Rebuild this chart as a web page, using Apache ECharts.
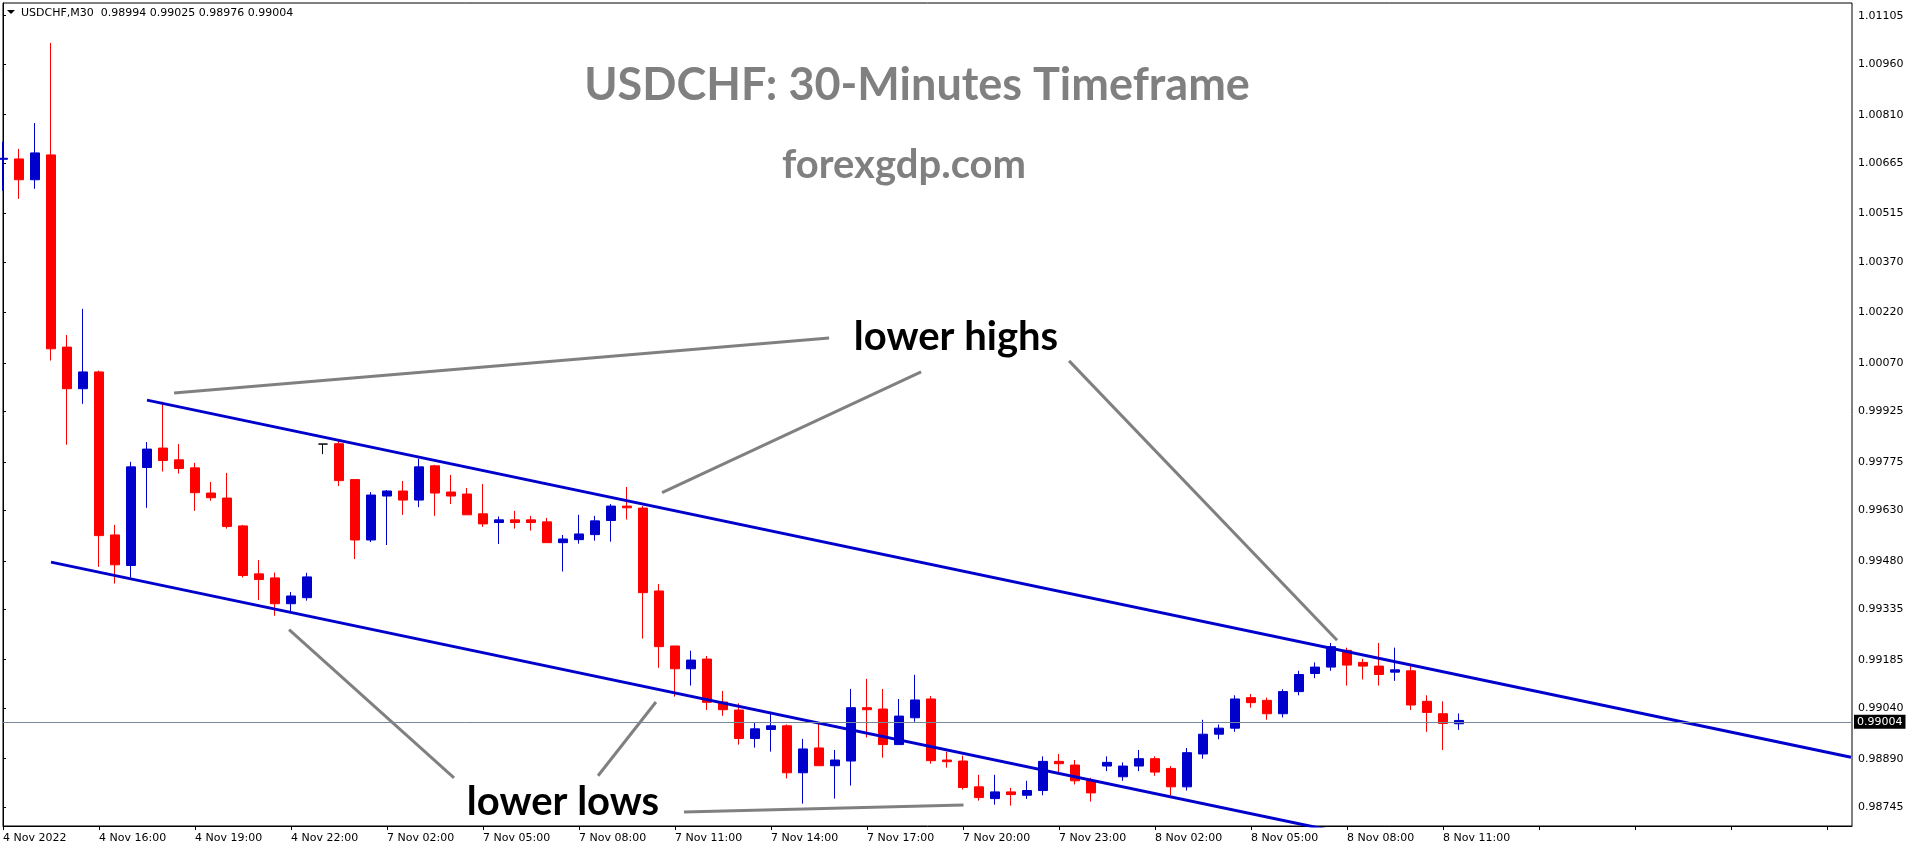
<!DOCTYPE html>
<html><head><meta charset="utf-8">
<script src="https://cdn.jsdelivr.net/npm/echarts@6/dist/echarts.min.js"></script>
<style>html,body{margin:0;padding:0;background:#fff}#c{width:1916px;height:850px}</style>
</head><body><div id="c"></div>
<script>
// ---- data (30-minute bars, index 0 = 4 Nov 2022 13:00) ----
const tickLabels = ['4 Nov 2022','4 Nov 16:00','4 Nov 19:00','4 Nov 22:00','7 Nov 02:00','7 Nov 05:00','7 Nov 08:00','7 Nov 11:00','7 Nov 14:00','7 Nov 17:00','7 Nov 20:00','7 Nov 23:00','8 Nov 02:00','8 Nov 05:00','8 Nov 08:00','8 Nov 11:00'];
const opens = [1.00677,1.00678,1.00616,1.00690,1.00117,0.99993,1.00043,0.99557,0.99466,0.99758,
0.99816,0.99781,0.99757,0.99682,0.99667,0.99584,0.99441,0.99429,0.99352,0.99370,
0.99828,0.99829,0.99722,0.99542,0.99673,0.99688,0.99661,0.99763,0.99685,0.99679,
0.99620,0.99594,0.99602,0.99602,0.99596,0.99534,0.99543,0.99558,0.99600,0.99643,
0.99637,0.99390,0.99226,0.99158,0.99187,0.99059,0.99035,0.98950,0.98977,0.98988,
0.98848,0.98922,0.98869,0.98883,0.99042,0.99038,0.98932,0.99012,0.99068,0.98886,
0.98883,0.98806,0.98771,0.98791,0.98781,0.98795,0.98882,0.98871,0.98824,0.98868,
0.98836,0.98868,0.98890,0.98861,0.98806,0.98904,0.98963,0.98981,0.99072,0.99064,
0.99024,0.99090,0.99144,0.99163,0.99213,0.99177,0.99166,0.99148,0.99152,0.99061,
0.99024,0.98994];
const highs = [1.00729,1.00708,1.00785,1.01024,1.00153,1.00231,1.00047,0.99587,0.99775,0.99834,
0.99954,0.99828,0.99772,0.99715,0.99742,0.99587,0.99482,0.99445,0.99387,0.99444,
0.99828,0.99837,0.99722,0.99685,0.99691,0.99718,0.99784,0.99766,0.99736,0.99697,
0.99709,0.99612,0.99629,0.99614,0.99608,0.99557,0.99617,0.99614,0.99649,0.99700,
0.99643,0.99411,0.99226,0.99212,0.99196,0.99092,0.99055,0.98997,0.99030,0.98992,
0.98949,0.98994,0.98916,0.99098,0.99128,0.99098,0.99068,0.99140,0.99077,0.98911,
0.98899,0.98842,0.98842,0.98803,0.98824,0.98897,0.98904,0.98886,0.98833,0.98897,
0.98879,0.98916,0.98897,0.98868,0.98922,0.99006,0.98992,0.99079,0.99083,0.99072,
0.99097,0.99152,0.99177,0.99235,0.99221,0.99188,0.99235,0.99221,0.99166,0.99079,
0.99061,0.99025];
const lows = [1.00583,1.00559,1.00589,1.00077,0.99826,0.99948,0.99462,0.99412,0.99430,0.99638,
0.99746,0.99740,0.99629,0.99659,0.99576,0.99430,0.99363,0.99316,0.99327,0.99361,
0.99798,0.99703,0.99485,0.99536,0.99527,0.99617,0.99640,0.99614,0.99649,0.99617,
0.99581,0.99530,0.99576,0.99570,0.99534,0.99448,0.99531,0.99540,0.99537,0.99603,
0.99248,0.99161,0.99075,0.99108,0.99035,0.99018,0.98932,0.98923,0.98911,0.98831,
0.98756,0.98869,0.98771,0.98810,0.98953,0.98893,0.98932,0.99000,0.98875,0.98863,
0.98798,0.98765,0.98753,0.98750,0.98770,0.98781,0.98846,0.98813,0.98762,0.98853,
0.98824,0.98853,0.98839,0.98781,0.98795,0.98890,0.98948,0.98970,0.99042,0.99006,
0.99013,0.99079,0.99130,0.99152,0.99108,0.99126,0.99108,0.99122,0.99035,0.98970,
0.98916,0.98976];
const closes = [1.00680,1.00616,1.00696,1.00112,0.99993,1.00043,0.99555,0.99468,0.99760,0.99813,
0.99779,0.99755,0.99683,0.99668,0.99582,0.99436,0.99424,0.99352,0.99375,0.99432,
0.99828,0.99719,0.99542,0.99676,0.99688,0.99661,0.99760,0.99682,0.99673,0.99617,
0.99590,0.99602,0.99594,0.99594,0.99534,0.99545,0.99560,0.99599,0.99643,0.99638,
0.99385,0.99224,0.99158,0.99184,0.99058,0.99036,0.98950,0.98979,0.98988,0.98848,
0.98919,0.98869,0.98886,0.99042,0.99036,0.98932,0.99017,0.99065,0.98884,0.98881,
0.98804,0.98774,0.98791,0.98783,0.98795,0.98882,0.98875,0.98824,0.98788,0.98879,
0.98868,0.98890,0.98850,0.98806,0.98908,0.98963,0.98981,0.99068,0.99057,0.99024,
0.99090,0.99141,0.99163,0.99224,0.99169,0.99166,0.99141,0.99155,0.99050,0.99028,
0.98995,0.99004];
const priceTicks = [1.01105,1.00960,1.00810,1.00665,1.00515,1.00370,1.00220,1.00070,0.99925,0.99775,0.99630,0.99480,0.99335,0.99185,0.99040,0.98890,0.98745];
const lastPrice = 0.99004;
const headerText = 'USDCHF,M30  0.98994 0.99025 0.98976 0.99004';
// trend channel (bar index, price)
const upperChannel = [[9, 0.99959], [115.5, 0.98894]];
const lowerChannel = [[3, 0.99476], [115.5, 0.98351]];
// grey pointer lines (bar index, price)
const pointerLines = [
  [[10.69, 0.99980], [51.63, 1.00144]],
  [[41.19, 0.99683], [57.38, 1.00043]],
  [[66.63, 1.00076], [83.38, 0.99243]],
  [[17.88, 0.99275], [28.19, 0.98833]],
  [[37.19, 0.98839], [40.81, 0.99059]],
  [[42.56, 0.98731], [60.03, 0.98752]]
];

const yMin = 0.986893, yMax = 1.011429;
const BLUE = '#0000CD', RED = '#FF0000';

const candleData = opens.map((o, i) => [i, o, closes[i], lows[i], highs[i]]);

const series = [{
  type: 'candlestick',
  data: candleData,
  encode: { x: 0, y: [1, 2, 3, 4] },
  barWidth: 10,
  z: 3,
  itemStyle: { color: BLUE, color0: RED, borderColor: BLUE, borderColor0: RED, borderColorDoji: '#000', borderWidth: 1 },
  markLine: {
    silent: true, symbol: 'none', animation: false,
    data: [{ yAxis: lastPrice }],
    lineStyle: { color: '#778899', width: 1, type: 'solid' },
    label: { show: true, position: 'end', distance: 2, formatter: () => lastPrice.toFixed(5),
      color: '#fff', backgroundColor: '#000', padding: [2, 3, 1, 3], fontFamily: 'DejaVu Sans', fontSize: 11 }
  }
}];
[upperChannel, lowerChannel].forEach(seg => series.push({
  type: 'line', data: seg, showSymbol: false, symbol: 'none', z: 4, silent: true,
  lineStyle: { color: BLUE, width: 3 }
}));
pointerLines.forEach(seg => series.push({
  type: 'line', data: seg, showSymbol: false, symbol: 'none', z: 4, silent: true,
  lineStyle: { color: '#808080', width: 3 }
}));

const chart = echarts.init(document.getElementById('c'));
chart.setOption({
  animation: false,
  backgroundColor: '#fff',
  grid: { left: 3, right: 64, top: 3, bottom: 24, show: true, borderColor: '#000', borderWidth: 1, backgroundColor: '#fff' },
  xAxis: {
    type: 'value', min: 0, max: 115.5625, interval: 6,
    axisLine: { show: true, onZero: false, lineStyle: { color: '#000', width: 1 } },
    axisTick: { show: true, length: 4, lineStyle: { color: '#000' } },
    splitLine: { show: false },
    axisLabel: { showMaxLabel: false, showMinLabel: true, align: 'left', margin: 7, color: '#000', fontFamily: 'DejaVu Sans', fontSize: 11,
      formatter: v => tickLabels[Math.round(v / 6)] || '' }
  },
  yAxis: {
    type: 'value', position: 'right', min: yMin, max: yMax, scale: true,
    axisLine: { show: true, lineStyle: { color: '#000', width: 1 } },
    axisTick: { show: true, length: 3, customValues: priceTicks, lineStyle: { color: '#000' } },
    splitLine: { show: false },
    axisLabel: { customValues: priceTicks, margin: 6, color: '#000', fontFamily: 'DejaVu Sans', fontSize: 11, formatter: v => v.toFixed(5) }
  },
  graphic: [
    { type: 'polygon', shape: { points: [[7, 10], [15, 10], [11, 14]] }, style: { fill: '#000' }, z: 10 },
    { type: 'text', x: 21, y: 13, z: 10, style: { text: headerText, font: '11px "DejaVu Sans"', fill: '#000', verticalAlign: 'middle' } },
    { type: 'text', x: 917, y: 85, z: 10, style: { text: 'USDCHF: 30-Minutes Timeframe', font: 'bold 45px Lato', fill: '#808080', align: 'center', verticalAlign: 'middle' } },
    { type: 'text', x: 904, y: 165, z: 10, style: { text: 'forexgdp.com', font: 'bold 40px Lato', fill: '#808080', align: 'center', verticalAlign: 'middle' } },
    { type: 'text', x: 956, y: 337, z: 10, style: { text: 'lower highs', font: 'bold 40px Lato', fill: '#000', align: 'center', verticalAlign: 'middle' } },
    { type: 'text', x: 563, y: 802, z: 10, style: { text: 'lower lows', font: 'bold 40px Lato', fill: '#000', align: 'center', verticalAlign: 'middle' } }
  ],
  series: series
});
</script></body></html>
